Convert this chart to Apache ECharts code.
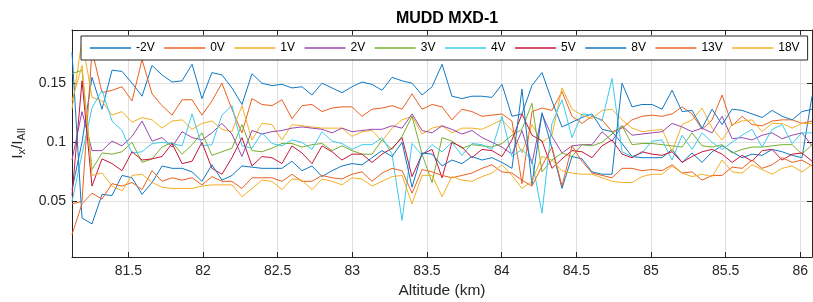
<!DOCTYPE html>
<html><head><meta charset="utf-8">
<script src="https://cdn.jsdelivr.net/npm/echarts@6.0.0/dist/echarts.min.js"></script>
<style>html,body{margin:0;padding:0;background:#fff}#c{width:813px;height:302px}</style>
</head><body><div id="c"></div>
<script>
const altitude = [81.123,81.190,81.257,81.324,81.391,81.458,81.525,81.592,81.659,81.726,
81.793,81.860,81.927,81.993,82.060,82.127,82.194,82.261,82.328,82.395,
82.462,82.529,82.596,82.663,82.730,82.797,82.864,82.931,82.998,83.065,
83.132,83.199,83.266,83.333,83.400,83.467,83.534,83.601,83.667,83.734,
83.801,83.868,83.935,84.002,84.069,84.136,84.203,84.270,84.337,84.404,
84.471,84.538,84.605,84.672,84.739,84.806,84.873,84.940,85.007,85.074,
85.141,85.208,85.275,85.342,85.409,85.476,85.543,85.610,85.677,85.744,
85.811,85.878,85.945,86.011,86.078];

const seriesNames = ['-2V','0V','1V','2V','3V','4V','5V','8V','13V','18V'];

const vMinus2 = [0.060,0.100,0.155,0.128,0.161,0.160,0.150,0.139,0.165,0.157,
0.151,0.152,0.166,0.137,0.159,0.157,0.146,0.132,0.158,0.150,
0.148,0.149,0.146,0.147,0.140,0.150,0.146,0.142,0.147,0.151,
0.149,0.144,0.155,0.152,0.150,0.140,0.147,0.166,0.139,0.137,
0.139,0.139,0.138,0.149,0.122,0.124,0.148,0.159,0.135,0.113,
0.117,0.121,0.124,0.111,0.109,0.099,0.088,0.087,0.087,0.087,
0.094,0.083,0.091,0.083,0.092,0.097,0.092,0.087,0.090,0.089,
0.094,0.092,0.089,0.087,0.139];

const v0 = [0.048,0.050,0.178,0.142,0.144,0.147,0.135,0.170,0.141,0.131,
0.123,0.136,0.136,0.123,0.135,0.150,0.128,0.108,0.137,0.132,
0.131,0.136,0.120,0.131,0.132,0.126,0.129,0.130,0.130,0.122,
0.128,0.129,0.131,0.128,0.141,0.128,0.132,0.130,0.119,0.128,
0.126,0.122,0.123,0.124,0.118,0.065,0.126,0.129,0.127,0.143,
0.122,0.116,0.122,0.119,0.109,0.112,0.119,0.122,0.123,0.122,
0.124,0.130,0.124,0.111,0.119,0.140,0.114,0.122,0.115,0.114,
0.118,0.119,0.119,0.116,0.118];

const v1 = [0.128,0.187,0.138,0.135,0.123,0.126,0.117,0.121,0.119,0.112,
0.118,0.119,0.111,0.116,0.118,0.111,0.109,0.131,0.102,0.116,
0.115,0.102,0.115,0.114,0.113,0.112,0.112,0.112,0.105,0.109,
0.110,0.101,0.112,0.119,0.122,0.107,0.112,0.114,0.108,0.112,
0.112,0.111,0.115,0.119,0.110,0.091,0.115,0.100,0.106,0.146,
0.128,0.123,0.120,0.127,0.128,0.119,0.112,0.109,0.110,0.111,
0.092,0.115,0.119,0.129,0.112,0.102,0.115,0.118,0.119,0.109,
0.116,0.116,0.112,0.116,0.116];

const v2 = [0.085,0.126,0.093,0.093,0.101,0.097,0.105,0.118,0.101,0.104,
0.096,0.109,0.104,0.102,0.108,0.116,0.107,0.088,0.110,0.107,
0.109,0.110,0.112,0.113,0.112,0.111,0.108,0.112,0.109,0.110,
0.111,0.111,0.114,0.112,0.124,0.110,0.108,0.114,0.111,0.107,
0.110,0.104,0.100,0.096,0.090,0.110,0.082,0.124,0.105,0.091,
0.097,0.098,0.098,0.109,0.101,0.114,0.106,0.107,0.108,0.109,
0.116,0.113,0.109,0.112,0.108,0.122,0.103,0.104,0.102,0.106,
0.108,0.103,0.106,0.108,0.097];

const v3 = [0.158,0.161,0.077,0.091,0.090,0.092,0.100,0.083,0.086,0.096,
0.100,0.090,0.098,0.108,0.089,0.092,0.095,0.115,0.093,0.092,
0.095,0.099,0.099,0.096,0.098,0.099,0.093,0.097,0.093,0.090,
0.090,0.102,0.094,0.105,0.122,0.090,0.066,0.104,0.101,0.095,
0.098,0.097,0.096,0.099,0.106,0.111,0.133,0.075,0.085,0.091,
0.088,0.098,0.097,0.100,0.107,0.114,0.098,0.099,0.099,0.098,
0.097,0.096,0.108,0.097,0.096,0.098,0.091,0.094,0.096,0.096,
0.097,0.098,0.098,0.090,0.098];

const v4 = [0.050,0.090,0.129,0.144,0.118,0.110,0.091,0.092,0.099,0.100,
0.099,0.097,0.124,0.097,0.098,0.123,0.131,0.097,0.095,0.108,
0.099,0.097,0.102,0.100,0.094,0.109,0.101,0.099,0.094,0.098,
0.098,0.104,0.090,0.034,0.099,0.089,0.098,0.092,0.100,0.089,
0.099,0.098,0.094,0.122,0.088,0.094,0.085,0.040,0.116,0.136,
0.104,0.124,0.123,0.118,0.154,0.092,0.088,0.091,0.101,0.102,
0.085,0.106,0.094,0.108,0.100,0.094,0.100,0.106,0.111,0.096,
0.111,0.115,0.099,0.108,0.108];

const v5 = [0.055,0.152,0.063,0.086,0.082,0.076,0.092,0.085,0.086,0.088,
0.099,0.082,0.084,0.100,0.078,0.073,0.087,0.104,0.080,0.088,
0.087,0.082,0.097,0.091,0.082,0.097,0.092,0.085,0.090,0.090,
0.083,0.090,0.095,0.104,0.071,0.090,0.094,0.070,0.100,0.096,
0.087,0.094,0.093,0.088,0.102,0.124,0.106,0.101,0.078,0.086,
0.093,0.092,0.087,0.097,0.102,0.090,0.087,0.092,0.090,0.089,
0.092,0.083,0.088,0.092,0.094,0.090,0.083,0.089,0.084,0.093,
0.094,0.085,0.090,0.091,0.084];

const v8 = [0.176,0.036,0.031,0.056,0.055,0.072,0.070,0.056,0.066,0.080,
0.078,0.078,0.075,0.067,0.081,0.068,0.072,0.080,0.079,0.078,
0.078,0.078,0.084,0.076,0.080,0.071,0.076,0.080,0.082,0.081,
0.087,0.093,0.088,0.100,0.062,0.091,0.090,0.080,0.085,0.082,
0.088,0.085,0.087,0.083,0.078,0.145,0.064,0.125,0.095,0.061,
0.088,0.086,0.075,0.073,0.073,0.150,0.130,0.132,0.132,0.128,
0.144,0.126,0.127,0.112,0.128,0.115,0.128,0.127,0.124,0.121,
0.127,0.122,0.119,0.126,0.128];

const v13 = [0.022,0.048,0.057,0.052,0.065,0.063,0.066,0.060,0.076,0.067,
0.070,0.068,0.070,0.064,0.071,0.067,0.067,0.061,0.070,0.070,
0.070,0.067,0.073,0.067,0.067,0.072,0.070,0.069,0.073,0.075,
0.067,0.074,0.078,0.076,0.057,0.077,0.075,0.072,0.070,0.072,
0.074,0.078,0.081,0.075,0.074,0.068,0.063,0.080,0.096,0.063,
0.097,0.084,0.074,0.072,0.070,0.078,0.078,0.076,0.077,0.076,
0.081,0.074,0.075,0.068,0.072,0.072,0.079,0.078,0.085,0.078,
0.081,0.087,0.083,0.085,0.080];

const v18 = [0.135,0.165,0.072,0.074,0.063,0.059,0.072,0.073,0.066,0.062,
0.061,0.061,0.061,0.063,0.064,0.064,0.064,0.054,0.061,0.068,
0.067,0.060,0.069,0.068,0.060,0.069,0.067,0.064,0.070,0.069,
0.063,0.067,0.071,0.072,0.048,0.072,0.072,0.054,0.071,0.068,
0.067,0.071,0.074,0.081,0.072,0.061,0.067,0.088,0.085,0.076,
0.074,0.073,0.073,0.070,0.067,0.066,0.066,0.071,0.073,0.073,
0.080,0.074,0.071,0.073,0.071,0.085,0.075,0.074,0.081,0.077,
0.073,0.078,0.080,0.075,0.081];

const seriesValues = [vMinus2, v0, v1, v2, v3, v4, v5, v8, v13, v18];
const colors = ['#1079C6','#EC6020','#F5B024','#9A48AE','#77B02E','#3CCBEF','#C8163C','#1079C6','#EC6020','#F5B024'];

const FONT = '"Liberation Sans", Arial, Helvetica, sans-serif';
const AX = '#262626';

const xCommon = {
  type: 'value', min: 81.123, max: 86.078, splitNumber: 10,
  axisLine: { show: true, onZero: false, lineStyle: { color: AX, width: 1 } },
  axisTick: { show: true, inside: true, length: 5, lineStyle: { color: AX } }
};
const yCommon = {
  type: 'value', min: 0.003, max: 0.195, splitNumber: 4,
  axisLine: { show: true, onZero: false, lineStyle: { color: AX, width: 1 } },
  axisTick: { show: true, inside: true, length: 5, lineStyle: { color: AX } }
};

const chart = echarts.init(document.getElementById('c'), null, { renderer: 'canvas' });
chart.setOption({
  animation: false,
  backgroundColor: '#ffffff',
  color: colors,
  title: {
    text: 'MUDD MXD-1', left: 442, top: 6, textAlign: 'center',
    textStyle: { fontFamily: FONT, fontSize: 16, fontWeight: 'bold', color: '#000' }
  },
  grid: { left: 72, right: 1, top: 30, bottom: 45, containLabel: false, outerBoundsMode: 'none' },
  legend: {
    left: 81, top: 36, width: 760, orient: 'horizontal',
    icon: 'rect',
    padding: [5, 8, 5, 9], itemGap: 9.5, itemWidth: 41, itemHeight: 1.5,
    borderColor: AX, borderWidth: 1, backgroundColor: '#fff', borderRadius: 0,
    textStyle: { fontFamily: FONT, fontSize: 12, color: '#000', lineHeight: 14 },
    data: seriesNames
  },
  xAxis: [
    Object.assign({}, xCommon, {
      position: 'bottom',
      axisLabel: { show: true, color: AX, fontFamily: FONT, fontSize: 14, margin: 7, showMinLabel: false, showMaxLabel: false },
      splitLine: { show: true, lineStyle: { color: '#e0e0e0', width: 1 } },
      name: 'Altitude (km)', nameLocation: 'middle', nameGap: 24,
      nameTextStyle: { fontFamily: FONT, fontSize: 15.5, color: AX }
    }),
    Object.assign({}, xCommon, {
      position: 'top',
      axisLabel: { show: false }, splitLine: { show: false }
    })
  ],
  yAxis: [
    Object.assign({}, yCommon, {
      position: 'left',
      axisLabel: { show: true, color: AX, fontFamily: FONT, fontSize: 14, margin: 6, showMinLabel: false, showMaxLabel: false },
      splitLine: { show: true, lineStyle: { color: '#e0e0e0', width: 1 } },
      name: '{m|I}{s|x}{m|/I}{s|All}', nameLocation: 'middle', nameGap: 35, nameRotate: 90,
      nameTextStyle: {
        fontFamily: FONT, fontSize: 15.5, color: AX, lineHeight: 20,
        rich: {
          m: { fontFamily: FONT, fontSize: 15.5, lineHeight: 20, color: AX },
          s: { fontFamily: FONT, fontSize: 11, lineHeight: 10, verticalAlign: 'bottom', color: AX }
        }
      }
    }),
    Object.assign({}, yCommon, {
      position: 'right',
      axisLabel: { show: false }, splitLine: { show: false }
    })
  ],
  series: seriesNames.map((name, k) => ({
    name: name,
    type: 'line',
    xAxisIndex: 0, yAxisIndex: 0,
    symbol: 'none',
    silent: true,
    clip: true,
    lineStyle: { width: 1, color: colors[k] },
    itemStyle: { color: colors[k] },
    emphasis: { disabled: true },
    data: altitude.map((a, i) => [a, seriesValues[k][i]])
  }))
});
</script></body></html>
